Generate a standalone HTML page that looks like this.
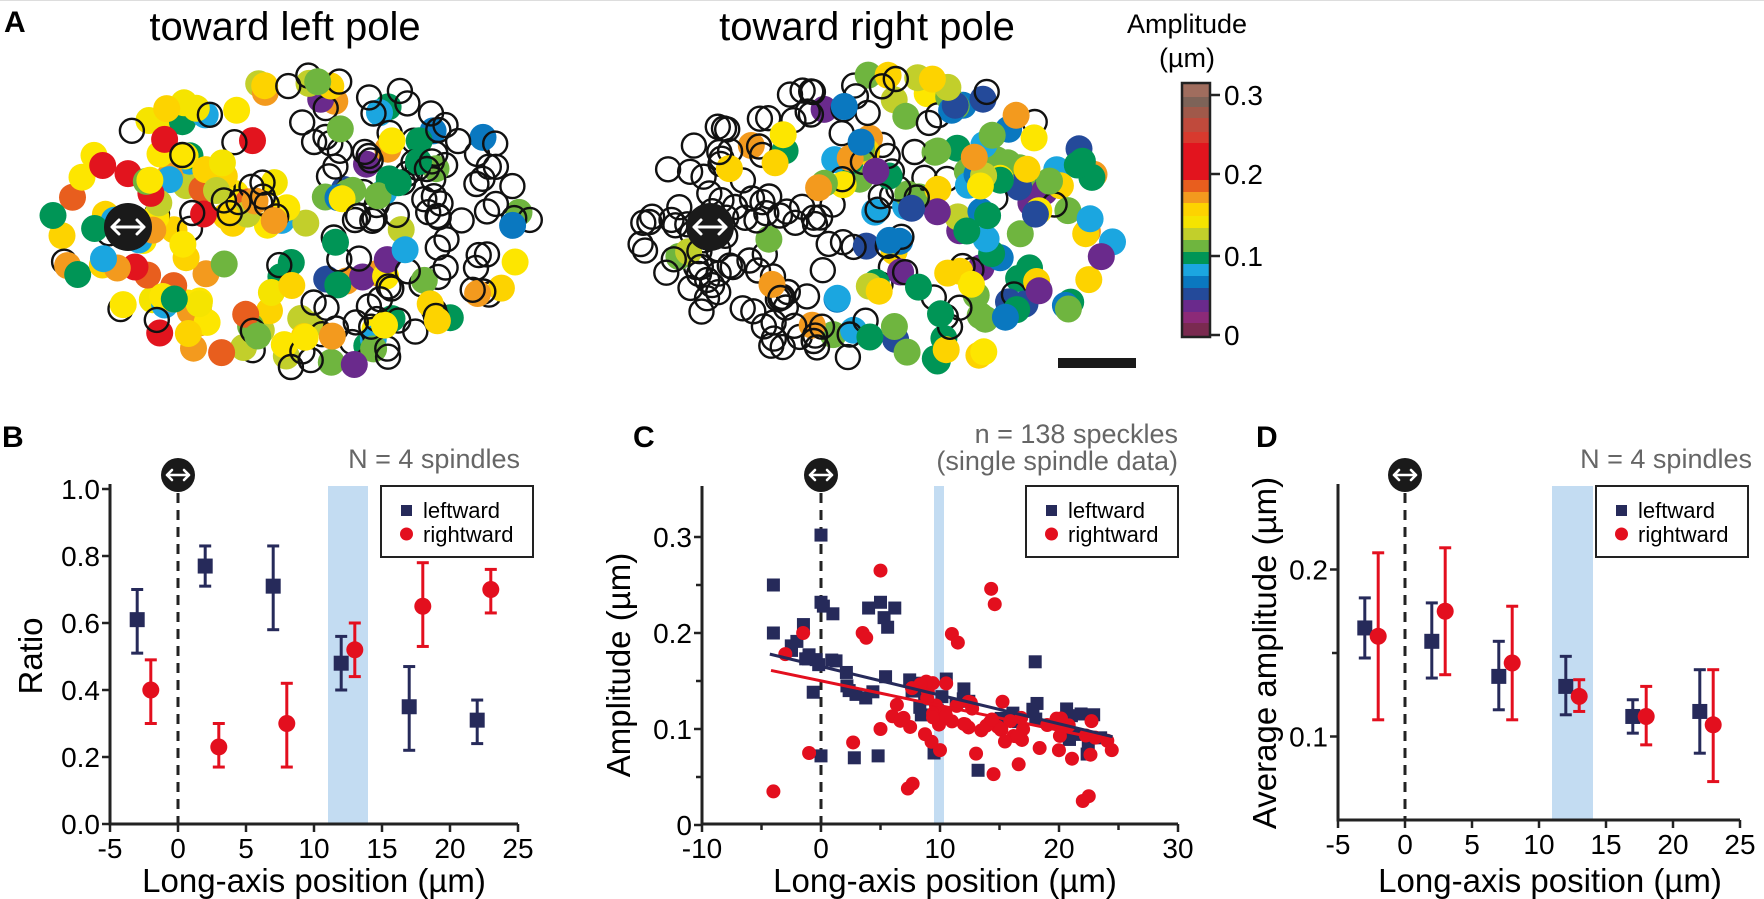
<!DOCTYPE html>
<html><head><meta charset="utf-8">
<style>
html,body{margin:0;padding:0;background:#fff;}
svg{display:block;font-family:"Liberation Sans",Arial,sans-serif;}
</style></head>
<body>
<svg id="s" width="1764" height="899" viewBox="0 0 1764 899" xmlns="http://www.w3.org/2000/svg">
<defs>
<g id="icon"><circle r="17" fill="#1a1a1a"/><path d="M-11 0H11M-6 -5L-11 0L-6 5M6 -5L11 0L6 5" stroke="#fff" stroke-width="2.6" fill="none" stroke-linecap="round" stroke-linejoin="round"/></g>
<g id="bigicon"><circle r="24" fill="#1a1a1a"/><path d="M-16 0H16M-9 -7L-16 0L-9 7M9 -7L16 0L9 7" stroke="#fff" stroke-width="3" fill="none" stroke-linecap="round" stroke-linejoin="round"/></g>
</defs>
<line x1="0" y1="0.5" x2="1764" y2="0.5" stroke="#ddd" stroke-width="1"/>
<!-- Panel A -->
<text x="4" y="32" font-size="30" font-weight="bold">A</text>
<text x="285" y="40" font-size="40" text-anchor="middle">toward left pole</text>
<text x="867" y="40" font-size="40" text-anchor="middle">toward right pole</text>
<g id="cloudL"></g>
<g id="cloudR"></g>
<use href="#bigicon" x="128" y="227"/>
<use href="#bigicon" x="710" y="227"/>
<rect x="1058" y="358" width="78" height="10" fill="#1a1a1a"/>
<text x="1187" y="33" font-size="27" text-anchor="middle">Amplitude</text>
<text x="1187" y="67" font-size="27" text-anchor="middle">(µm)</text>
<g id="cbar"></g>
<rect x="1182" y="83" width="28" height="254" fill="none" stroke="#222" stroke-width="2.5"/>
<g stroke="#222" stroke-width="2.5">
<line x1="1210" y1="95" x2="1220" y2="95"/><line x1="1210" y1="174" x2="1220" y2="174"/>
<line x1="1210" y1="256" x2="1220" y2="256"/><line x1="1210" y1="335" x2="1220" y2="335"/></g>
<g font-size="28"><text x="1224" y="105">0.3</text><text x="1224" y="184">0.2</text><text x="1224" y="266">0.1</text><text x="1224" y="345">0</text></g>

<!-- Panel B -->
<text x="2" y="447" font-size="30" font-weight="bold">B</text>
<text x="520" y="468" font-size="27" fill="#666" text-anchor="end">N = 4 spindles</text>
<rect x="328" y="486" width="40" height="338" fill="#c3dcf2"/>
<g id="B"></g>
<text transform="translate(42,656) rotate(-90)" font-size="33" text-anchor="middle">Ratio</text>
<text x="314" y="892" font-size="33" text-anchor="middle">Long-axis position (µm)</text>

<!-- Panel C -->
<text x="633" y="447" font-size="30" font-weight="bold">C</text>
<text x="1178" y="443" font-size="27" fill="#666" text-anchor="end">n = 138 speckles</text>
<text x="1178" y="470" font-size="27" fill="#666" text-anchor="end">(single spindle data)</text>
<rect x="934" y="486" width="10" height="338" fill="#c3dcf2"/>
<g id="C"></g>
<text transform="translate(630,665) rotate(-90)" font-size="33" text-anchor="middle">Amplitude (µm)</text>
<text x="945" y="892" font-size="33" text-anchor="middle">Long-axis position (µm)</text>

<!-- Panel D -->
<text x="1256" y="447" font-size="30" font-weight="bold">D</text>
<text x="1752" y="468" font-size="27" fill="#666" text-anchor="end">N = 4 spindles</text>
<rect x="1552" y="486" width="41" height="334" fill="#c3dcf2"/>
<g id="D"></g>
<text transform="translate(1276,653) rotate(-90)" font-size="33" text-anchor="middle">Average amplitude (µm)</text>
<text x="1550" y="892" font-size="33" text-anchor="middle">Long-axis position (µm)</text>
</svg>
<script>
var NS="http://www.w3.org/2000/svg";
function el(p,t,a,txt){var e=document.createElementNS(NS,t);for(var k in a)e.setAttribute(k,a[k]);if(txt!==undefined)e.textContent=txt;p.appendChild(e);return e;}
var seed=12345;function rnd(){seed=(seed*1103515245+12345)%2147483648;return seed/2147483648;}
function gauss(){return (rnd()+rnd()+rnd()+rnd()-2)/1.15;}
var cb=document.getElementById('cbar');
var bands=[["#a06d5e",83,97],["#7d6358",97,107],["#a0594a",107,118],["#c04a3c",118,132],["#d83a2e",132,143],["#e2141e",143,180],["#e85e1e",180,192],["#f39a1e",192,203],["#fdd300",203,216],["#f5e400",216,228],["#c2cf2b",228,240],["#6fb53f",240,252],["#009556",252,264],["#1ba6e0",264,276],["#0a78c0",276,288],["#244a9a",288,300],["#6a2a8c",300,312],["#8c2a78",312,323],["#7a2a50",323,337]];
bands.forEach(function(b){el(cb,'rect',{x:1182,y:b[1],width:28,height:b[2]-b[1],fill:b[0]});});
var warm=["#fde600","#fdd300","#f5e400","#fdd300","#fde600","#f39a1e","#e2141e","#c2cf2b","#e85e1e","#fde600","#6fb53f","#1ba6e0","#009556"];
var cool=["#009556","#6fb53f","#c2cf2b","#1ba6e0","#0a78c0","#fde600","#009556","#6fb53f","#244a9a","#6a2a8c","#f39a1e","#fdd300"];
function cloud(id,cx,cy,a,b,n,pf,pal){
  var g=document.getElementById(id);var list=[];
  while(list.length<n){var u=rnd()*2-1,v=rnd()*2-1;if(u*u+v*v>1)continue;
    var x=cx+u*a,y=cy+v*b*(1-0.15*Math.max(0,-u));list.push([x,y,u]);}
  list.forEach(function(p){var u=p[2];
    if(rnd()<pf(u)){var c=pal(u);el(g,'circle',{cx:p[0].toFixed(1),cy:p[1].toFixed(1),r:13.5,fill:c});}
    else el(g,'circle',{cx:p[0].toFixed(1),cy:p[1].toFixed(1),r:12,fill:"none",stroke:"#111","stroke-width":2.4});});
}
cloud('cloudL',292,222,240,148,280,function(u){return u<-0.3?0.85:(u<0.25?0.55:0.3);},function(u){return u<0.1?warm[Math.floor(rnd()*warm.length)]:cool[Math.floor(rnd()*cool.length)];});
cloud('cloudR',875,222,240,148,280,function(u){return u<-0.25?0.12:(u<0.25?0.5:0.85);},function(u){return cool[Math.floor(rnd()*cool.length)];});

function axes(g,x0,x1,y0,y1,xt,yt,xl,yl,minx,miny){
  el(g,'line',{x1:x0,y1:y1-2,x2:x0,y2:y0+1.5,stroke:"#222","stroke-width":3});
  el(g,'line',{x1:x0-1.5,y1:y0,x2:x1,y2:y0,stroke:"#222","stroke-width":3});
  xt.forEach(function(t,i){el(g,'line',{x1:t,y1:y0,x2:t,y2:y0+8,stroke:"#222","stroke-width":2.5});el(g,'text',{x:t,y:y0+34,"font-size":28,"text-anchor":"middle"},xl[i]);});
  yt.forEach(function(t,i){el(g,'line',{x1:x0,y1:t,x2:x0-8,y2:t,stroke:"#222","stroke-width":2.5});el(g,'text',{x:x0-10,y:t+10,"font-size":28,"text-anchor":"end"},yl[i]);});
  (minx||[]).forEach(function(t){el(g,'line',{x1:t,y1:y0,x2:t,y2:y0+6,stroke:"#222","stroke-width":2.5});});
  (miny||[]).forEach(function(t){el(g,'line',{x1:x0,y1:t,x2:x0-6,y2:t,stroke:"#222","stroke-width":2.5});});
}
function legend(g,x,y,w){
  el(g,'rect',{x:x,y:y,width:w,height:71,fill:"#fff",stroke:"#222","stroke-width":2});
  el(g,'rect',{x:x+20,y:y+19,width:11,height:11,fill:"#262a5a"});
  el(g,'circle',{cx:x+25.5,cy:y+48,r:6.5,fill:"#e30f1e"});
  el(g,'text',{x:x+42,y:y+32,"font-size":22},"leftward");
  el(g,'text',{x:x+42,y:y+56,"font-size":22},"rightward");
}
var NAVY="#262a5a",RED="#e30f1e";
function errpt(g,X,Y,x,y,hi,lo,sq,col){
  var px=X(x);el(g,'line',{x1:px,y1:Y(hi),x2:px,y2:Y(lo),stroke:col,"stroke-width":3});
  el(g,'line',{x1:px-6,y1:Y(hi),x2:px+6,y2:Y(hi),stroke:col,"stroke-width":3});
  el(g,'line',{x1:px-6,y1:Y(lo),x2:px+6,y2:Y(lo),stroke:col,"stroke-width":3});
  if(sq)el(g,'rect',{x:px-7.5,y:Y(y)-7.5,width:15,height:15,fill:col});else el(g,'circle',{cx:px,cy:Y(y),r:8.5,fill:col});
}
(function(){var g=document.getElementById('B');
var X=function(v){return 178+13.6*v;},Y=function(r){return 824-335*r;};
el(g,'line',{x1:178,y1:493,x2:178,y2:824,stroke:"#222","stroke-width":3,"stroke-dasharray":"10,7"});
axes(g,110,518,824,486,[-5,0,5,10,15,20,25].map(X),[0,.2,.4,.6,.8,1].map(Y),["-5","0","5","10","15","20","25"],["0.0","0.2","0.4","0.6","0.8","1.0"]);
el(g,'use',{href:"#icon",x:178,y:475});
[[-3,.61,.70,.51],[2,.77,.83,.71],[7,.71,.83,.58],[12,.48,.56,.40],[17,.35,.47,.22],[22,.31,.37,.24]].forEach(function(d){errpt(g,X,Y,d[0],d[1],d[2],d[3],1,NAVY);});
[[-2,.40,.49,.30],[3,.23,.30,.17],[8,.30,.42,.17],[13,.52,.60,.44],[18,.65,.78,.53],[23,.70,.76,.63]].forEach(function(d){errpt(g,X,Y,d[0],d[1],d[2],d[3],0,RED);});
legend(g,381,486,152);})();
(function(){var g=document.getElementById('C');
var X=function(v){return 821+11.9*v;},Y=function(a){return 825-960*a;};
el(g,'line',{x1:821,y1:493,x2:821,y2:824,stroke:"#222","stroke-width":3,"stroke-dasharray":"10,7"});
axes(g,702,1178,824,488,[-10,0,10,20,30].map(X),[0,.1,.2,.3].map(Y),["-10","0","10","20","30"],["0","0.1","0.2","0.3"],[-5,5,15,25].map(X),[.05,.15,.25].map(Y));
el(g,'use',{href:"#icon",x:821,y:475});
seed=777;
var blue=[[-4,.25],[-4,.2],[0,.302],[0,.232],[.2,.228],[1,.22],[4,.226],[5,.232],[5.3,.216],[6.2,.226],[5.6,.206],[0,.072],[4.8,.072],[2.8,.07],[9.5,.075],[13.2,.057],[18,.17]];
for(var i=0;i<52;i++){var x=-3+rnd()*27;var y=0.165-0.0032*x+gauss()*0.028;blue.push([x,y]);}
blue.forEach(function(p){el(g,'rect',{x:X(p[0])-6.5,y:Y(p[1])-6.5,width:13,height:13,fill:NAVY});});
var red=[[-4,.035],[-3,.178],[-1.5,.2],[-1,.075],[5,.265],[3.5,.2],[3.8,.195],[14.3,.246],[14.6,.23],[7.3,.038],[7.7,.043],[14.5,.053],[22,.025],[22.5,.03],[2.7,.086],[5,.1],[10,.078],[11,.199],[11.5,.19]];
for(var i=0;i<60;i++){var x=6+rnd()*19;var y=0.145-0.0025*x+gauss()*0.03;red.push([x,y]);}
red.forEach(function(p){el(g,'circle',{cx:X(p[0]),cy:Y(p[1]),r:7,fill:RED});});
el(g,'line',{x1:X(-4.3),y1:Y(.178),x2:X(24.5),y2:Y(.092),stroke:NAVY,"stroke-width":3});
el(g,'line',{x1:X(-4.2),y1:Y(.161),x2:X(24.5),y2:Y(.087),stroke:RED,"stroke-width":3});
legend(g,1026,486,152);})();
(function(){var g=document.getElementById('D');
var X=function(v){return 1405+13.4*v;},Y=function(a){return 820-(a-0.05)*1670;};
el(g,'line',{x1:1405,y1:493,x2:1405,y2:820,stroke:"#222","stroke-width":3,"stroke-dasharray":"10,7"});
axes(g,1338,1740,820,486,[-5,0,5,10,15,20,25].map(X),[.1,.2].map(Y),["-5","0","5","10","15","20","25"],["0.1","0.2"],[],[.15].map(Y));
el(g,'use',{href:"#icon",x:1405,y:475});
[[-3,.165,.183,.147],[2,.157,.18,.135],[7,.136,.157,.116],[12,.13,.148,.113],[17,.112,.122,.102],[22,.115,.14,.09]].forEach(function(d){errpt(g,X,Y,d[0],d[1],d[2],d[3],1,NAVY);});
[[-2,.16,.21,.11],[3,.175,.213,.137],[8,.144,.178,.11],[13,.124,.134,.115],[18,.112,.13,.095],[23,.107,.14,.073]].forEach(function(d){errpt(g,X,Y,d[0],d[1],d[2],d[3],0,RED);});
legend(g,1596,486,152);})();
</script>
</body></html>
